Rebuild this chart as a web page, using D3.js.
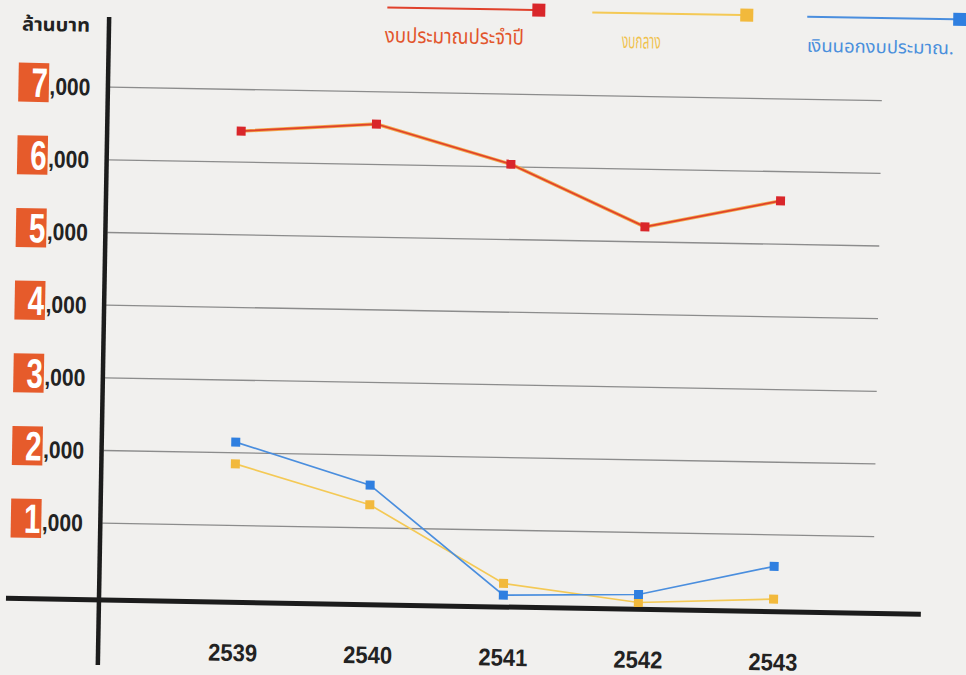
<!DOCTYPE html>
<html>
<head>
<meta charset="utf-8">
<script src="https://cdn.jsdelivr.net/npm/d3@7"></script>
<style>
  body { margin: 0; background: #f1f0ee; }
  svg { display: block; }
  .num { font-family: "Liberation Sans Narrow", "Arial Narrow", "Liberation Sans", sans-serif; font-weight: bold; }
  .thai { font-family: "Noto Sans Thai", "Noto Sans", "DejaVu Sans", sans-serif; }
</style>
</head>
<body>
<div id="chart"></div>
<script>
// Data (million baht)
const years = ["2539", "2540", "2541", "2542", "2543"];
const regularBudget = [6420, 6550, 6030, 5200, 5590];   // งบประมาณประจำปี
const centralBudget = [1840, 1310, 260, 30, 110];       // งบกลาง
const offBudget = [2140, 1580, 100, 140, 560];          // เงินนอกงบประมาณ
const yTicks = [1000, 2000, 3000, 4000, 5000, 6000, 7000];
const unitLabel = "ล้านบาท";

const series = [
    {name: "งบกลาง", values: centralBudget, line: "#f4c955", mark: "#f2b93c", text: "#f0c24e"},
    {name: "เงินนอกงบประมาณ.", values: offBudget, line: "#4a8ede", mark: "#2f7fe0", text: "#4a8fdc"},
    {name: "งบประมาณประจำปี", values: regularBudget, line: "#e0412b", mark: "#d9262a", text: "#e2552c"}
];

const width = 966, height = 675;

const svg = d3.select("#chart").append("svg")
    .attr("width", width)
    .attr("height", height);

svg.append("rect").attr("width", width).attr("height", height).attr("fill", "#f1f0ee");

// the scan is tilted about one degree clockwise
const g = svg.append("g").attr("transform", "rotate(1, 100, 598)");

const x = d3.scalePoint().domain(years).range([233, 773.5]);
const y = d3.scaleLinear().domain([0, 7000]).range([595.3, 86.6]);

// gridlines
const grid = g.append("g")
    .attr("transform", "translate(101,0)")
    .call(d3.axisRight(y).tickValues(yTicks).tickSize(772).tickFormat(""));
grid.select(".domain").remove();
grid.selectAll("line").attr("stroke", "#8c8c8c").attr("stroke-width", 1.3);

// axes lines
g.append("line")
    .attr("x1", 6).attr("x2", 921)
    .attr("y1", 600).attr("y2", 600)
    .attr("stroke", "#1c1c1c").attr("stroke-width", 5);
g.append("line")
    .attr("x1", 99).attr("x2", 99)
    .attr("y1", 17).attr("y2", 665)
    .attr("stroke", "#1c1c1c").attr("stroke-width", 4.5);

// x labels
const xAxis = g.append("g")
    .attr("transform", "translate(0,600)")
    .call(d3.axisBottom(x).tickSize(0));
xAxis.select(".domain").remove();
xAxis.selectAll("text")
    .attr("class", "num")
    .attr("y", 50)
    .attr("dy", "0.36em")
    .attr("textLength", 49)
    .attr("lengthAdjust", "spacingAndGlyphs")
    .attr("fill", "#222")
    .style("font-size", "24px");

// y labels: boxed first digit + ",000"
const yLab = g.append("g").selectAll("g")
    .data(yTicks)
    .join("g")
    .attr("transform", d => `translate(0,${y(d)})`);

yLab.append("rect")
    .attr("x", 9.5).attr("y", -22.5)
    .attr("width", 30.5).attr("height", 39)
    .attr("fill", "#e65b2b");

yLab.append("text")
    .attr("class", "num")
    .attr("transform", "translate(39,11.5) scale(0.72,1)")
    .attr("text-anchor", "end")
    .attr("fill", "#fff")
    .style("font-size", "41px")
    .text(d => String(d / 1000));

yLab.append("text")
    .attr("class", "num")
    .attr("x", 40.5).attr("y", 9)
    .attr("textLength", 41)
    .attr("lengthAdjust", "spacingAndGlyphs")
    .attr("fill", "#222")
    .style("font-size", "24px")
    .text(",000");

g.append("text")
    .attr("class", "thai")
    .attr("x", 12).attr("y", 32)
    .attr("textLength", 68)
    .attr("lengthAdjust", "spacingAndGlyphs")
    .attr("fill", "#222")
    .style("font-size", "19px")
    .style("font-weight", "bold")
    .text(unitLabel);

// series lines
const line = d3.line().x((d, i) => x(years[i])).y(d => y(d));

series.forEach(s => {
    if (s.name === "งบประมาณประจำปี") {
        g.append("path")
            .attr("d", line(s.values))
            .attr("fill", "none")
            .attr("stroke", "#f2a84c")
            .attr("stroke-width", 3.4);
    }
    g.append("path")
        .attr("d", line(s.values))
        .attr("fill", "none")
        .attr("stroke", s.line)
        .attr("stroke-width", 1.7);
    g.append("g").selectAll("rect")
        .data(s.values)
        .join("rect")
        .attr("x", (d, i) => x(years[i]) - 4.5)
        .attr("y", d => y(d) - 4.5)
        .attr("width", 9).attr("height", 9)
        .attr("fill", s.mark);
});

// legend
const legendPos = [
    {name: "งบประมาณประจำปี", x1: 377, x2: 523, ly: 2.5, tx: 375, tw: 139, fs: 21},
    {name: "งบกลาง", x1: 582, x2: 731, ly: 4, tx: 612, tw: 39, fs: 21},
    {name: "เงินนอกงบประมาณ.", x1: 797, x2: 944, ly: 4.5, tx: 797, tw: 147, fs: 18}
];

legendPos.forEach(p => {
    const s = series.find(d => d.name === p.name);
    g.append("line")
        .attr("x1", p.x1).attr("x2", p.x2)
        .attr("y1", p.ly).attr("y2", p.ly)
        .attr("stroke", s.line).attr("stroke-width", 2);
    g.append("rect")
        .attr("x", p.x2 - 1).attr("y", p.ly - 6.5)
        .attr("width", 13).attr("height", 13)
        .attr("fill", s.mark);
    g.append("text")
        .attr("class", "thai")
        .attr("x", p.tx).attr("y", p.ly + 35)
        .attr("textLength", p.tw)
        .attr("lengthAdjust", "spacingAndGlyphs")
        .attr("fill", s.text)
        .style("font-size", p.fs + "px")
        .text(s.name);
});
</script>
</body>
</html>
